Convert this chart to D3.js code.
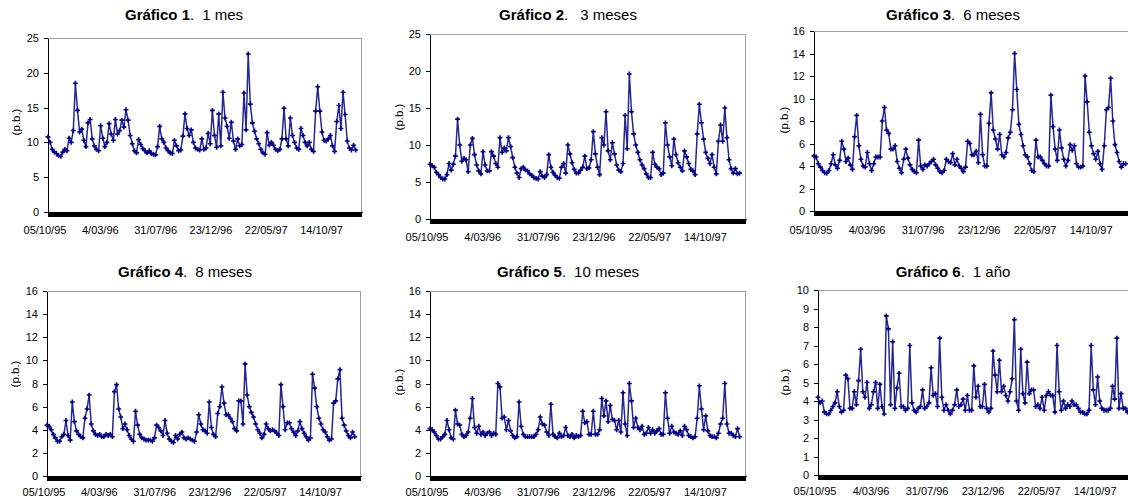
<!DOCTYPE html>
<html>
<head>
<meta charset="utf-8">
<script src="https://cdn.jsdelivr.net/npm/d3@7"></script>
<style>
  html, body { margin: 0; padding: 0; background: #fff; }
  svg { display: block; font-family: Arial, "Liberation Sans", sans-serif; }
</style>
</head>
<body>
<svg id="chart" width="1128" height="504"></svg>
<script>
// Date labels shown on the category axis, and the category index where each sits
const dateLabels = ["05/10/95", "4/03/96", "31/07/96", "23/12/96", "22/05/97", "14/10/97"];
const dateIndex = [0, 105, 210, 315, 420, 525];
const categoryCount = 596;   // business days on the axis
const sampleStep = 4;        // one plotted observation every 4 business days

// Volatility in basis points (p.b.) for each maturity
const mes1 = [10.8,10.0,9.0,8.6,8.4,8.1,8.0,8.6,9.0,8.8,10.6,10.0,11.7,18.5,14.6,11.5,11.9,10.3,9.4,12.8,
  13.3,10.5,9.5,9.0,8.8,12.4,10.6,9.4,10.0,12.7,11.2,10.3,13.3,11.2,11.7,13.2,12.2,14.7,13.2,11.0,
  9.8,8.8,8.5,10.4,9.7,9.1,8.8,8.5,8.8,8.4,8.3,8.2,9.4,12.3,10.5,10.0,9.2,8.8,8.5,8.4,
  10.3,9.5,8.8,8.9,10.9,14.1,12.0,11.0,11.8,10.0,9.2,9.0,8.9,10.5,9.0,9.2,11.3,9.8,14.6,11.0,
  9.3,14.1,9.5,17.2,13.5,12.3,10.6,12.9,10.2,9.0,10.5,9.5,9.7,17.1,11.8,22.7,15.5,12.8,11.6,10.5,
  9.8,9.0,8.5,8.3,11.4,9.6,10.0,9.6,9.0,8.8,9.0,10.5,14.9,10.5,9.5,13.5,11.0,10.0,9.2,9.0,
  12.0,11.0,10.0,9.5,10.0,9.0,8.7,14.5,18.0,14.5,11.5,10.3,10.2,10.5,11.0,9.5,8.7,13.0,15.3,12.0,
  17.2,14.0,10.2,9.2,8.9,9.6,8.9];

const meses3 = [7.4,7.2,7.0,6.3,6.0,5.6,5.4,5.4,6.0,7.5,6.6,7.4,8.5,13.5,10.0,7.8,8.2,8.0,6.4,10.0,
  10.9,8.7,7.3,6.5,6.1,9.1,7.3,6.5,6.5,9.1,8.5,7.5,7.0,11.0,9.0,9.6,9.2,11.0,9.8,8.3,
  7.0,6.2,5.6,6.8,7.0,6.6,6.5,6.1,5.9,5.6,5.5,5.4,6.4,5.8,5.6,6.0,8.7,7.0,6.3,5.9,
  5.6,5.5,7.0,7.5,6.2,10.0,8.8,7.6,6.7,6.2,6.2,6.6,7.0,8.5,6.8,6.9,8.0,11.8,8.8,7.0,
  6.0,11.0,10.0,14.5,9.2,8.0,10.3,8.8,7.3,6.6,6.4,7.5,14.0,9.5,19.6,14.5,11.5,10.0,9.0,8.0,
  7.3,6.8,6.1,5.6,5.6,9.0,7.4,7.0,6.8,6.0,6.2,13.0,10.0,8.4,7.2,10.8,8.7,7.6,7.0,6.5,
  9.2,8.4,7.5,6.7,6.5,6.0,11.5,15.5,13.0,10.8,9.0,8.2,7.5,8.7,7.0,6.1,10.5,12.7,10.5,15.0,
  11.0,8.0,6.8,6.2,6.8,6.1,6.2];

const meses6 = [4.9,4.8,4.2,3.9,3.6,3.4,3.35,3.6,4.2,5.0,4.1,3.8,4.5,6.2,5.5,4.4,4.7,4.1,3.7,6.6,
  8.5,5.8,4.6,4.0,3.9,5.2,4.2,3.6,4.2,4.8,4.8,4.8,8.0,9.2,7.2,6.9,5.5,5.5,5.8,4.4,
  3.8,3.4,4.6,5.5,4.7,4.1,3.7,3.5,3.4,6.3,4.0,3.7,4.1,4.0,4.2,4.4,4.6,4.1,3.8,3.5,
  3.4,3.6,4.6,4.4,4.3,5.1,4.1,4.6,4.0,3.8,3.5,3.9,6.2,6.0,5.0,5.0,5.3,4.3,8.6,5.0,
  4.0,4.0,7.8,10.5,7.2,6.4,5.5,6.8,5.0,4.8,5.2,6.5,7.0,9.0,14.0,10.8,7.7,6.8,5.8,5.0,
  4.8,4.2,3.6,3.5,6.3,4.8,4.8,4.5,4.2,4.0,4.0,10.3,7.5,5.5,4.5,7.2,5.6,4.6,4.0,4.5,
  5.9,5.4,5.8,4.2,3.9,3.9,4.0,12.0,9.7,7.0,5.8,5.1,4.6,5.3,4.2,3.7,5.8,9.0,9.2,11.8,
  8.0,5.9,5.2,4.4,3.9,4.2,4.2];

const meses8 = [4.4,4.3,4.0,3.6,3.3,3.0,3.0,3.4,3.6,4.8,3.5,3.1,6.4,4.7,3.9,3.6,3.4,3.3,5.0,5.8,
  7.0,4.5,3.9,3.6,3.5,3.6,3.4,3.4,3.6,3.5,3.6,3.4,7.3,7.9,5.8,5.1,4.1,4.5,4.0,3.5,
  3.2,3.0,5.6,4.4,3.6,3.3,3.2,3.1,3.1,3.1,3.0,3.3,4.4,4.2,3.9,3.5,4.8,3.7,3.2,3.0,
  2.9,3.5,3.2,3.6,3.8,3.3,3.2,3.3,3.2,3.1,3.0,3.8,5.3,4.5,4.0,3.9,3.7,6.4,4.2,3.6,
  3.4,5.4,6.0,7.7,6.3,5.3,5.3,5.0,4.7,4.1,3.9,6.5,6.5,4.5,9.7,7.0,6.0,5.5,5.1,4.5,
  4.0,3.7,3.3,3.6,4.5,4.1,3.9,4.0,3.9,3.7,3.5,7.9,6.0,4.0,4.6,4.6,4.1,3.8,3.5,3.9,
  4.7,4.1,3.7,3.4,3.1,3.3,8.8,7.6,6.0,5.0,4.5,4.0,3.8,3.4,3.1,3.2,6.3,6.5,8.4,9.2,
  5.0,4.4,3.9,3.5,3.3,3.8,3.4];

const meses10 = [4.1,4.0,3.8,3.5,3.2,3.2,3.4,3.6,4.8,4.0,3.3,3.2,5.7,4.5,4.4,3.6,3.4,3.5,3.8,5.0,
  6.7,4.2,3.7,4.3,3.6,3.8,3.5,3.7,3.8,3.5,3.7,3.6,8.0,7.7,5.0,5.1,4.0,4.8,3.9,3.5,
  3.3,3.4,6.4,4.3,3.6,3.4,3.4,3.4,3.4,3.4,3.6,4.0,5.1,4.5,4.4,3.8,3.5,6.2,3.6,3.4,
  3.3,3.7,3.4,3.5,4.2,3.5,3.4,3.6,3.3,3.5,3.4,3.5,5.6,4.6,4.7,3.6,3.6,5.6,3.6,3.6,
  4.0,6.7,5.2,6.5,4.7,6.1,4.9,4.8,4.0,4.8,3.8,7.2,4.5,3.5,8.0,6.5,4.2,5.0,4.2,4.0,
  4.3,3.6,3.7,4.2,3.7,4.0,3.7,3.9,4.1,3.6,3.6,7.2,5.0,3.7,4.3,3.8,3.7,3.6,3.9,3.5,
  4.3,4.0,3.5,3.4,3.3,3.4,5.0,7.8,5.8,4.0,5.2,3.9,3.5,3.4,3.4,3.3,3.7,4.5,5.0,8.0,
  4.5,3.7,3.7,3.5,3.4,4.1,3.4];

const ano1 = [4.2,3.9,4.0,3.4,3.3,3.3,3.5,3.7,3.9,4.5,3.7,3.4,3.5,5.4,5.2,3.6,3.6,4.5,3.8,5.1,
  6.8,4.5,4.2,5.0,3.6,3.8,4.5,5.0,3.6,4.9,3.7,3.3,8.6,7.9,3.8,7.2,3.6,4.7,5.5,3.7,
  3.7,3.5,3.6,7.0,3.9,3.5,3.4,3.6,3.7,4.6,3.6,3.7,3.9,5.8,4.3,4.4,3.7,7.4,4.2,3.5,
  3.8,3.5,3.3,3.5,3.8,4.6,3.7,3.8,4.1,3.5,4.3,3.5,3.5,5.9,4.2,4.8,3.7,3.7,4.9,3.6,
  3.4,3.6,6.7,5.4,4.5,6.2,4.5,4.8,4.3,4.0,4.5,5.2,8.4,4.0,3.5,6.8,4.4,3.9,6.1,4.4,
  4.6,4.6,3.7,3.8,3.6,4.2,3.5,4.3,4.5,4.3,4.3,3.4,7.0,4.5,3.5,4.0,3.6,3.8,3.7,4.0,
  3.8,3.8,3.6,3.4,3.4,3.3,3.3,3.5,7.0,4.6,3.8,5.3,4.0,3.6,3.5,3.5,3.5,3.6,4.8,4.1,
  7.4,3.6,4.4,3.6,3.6,3.4,3.5];

// One small chart per maturity
const panels = [
  { num: "1", sub: "1 mes",    gap: 12, values: mes1,    yMax: 25, yStep: 5,
    left: 48,  top: 38,  bottom: 212, width: 314, titleX: 184, titleY: 20,  yLabX: 16,  yLabY: 122, xLabY: 234 },
  { num: "2", sub: "3 meses",  gap: 16, values: meses3,  yMax: 25, yStep: 5,
    left: 430, top: 34,  bottom: 219, width: 316, titleX: 568, titleY: 20,  yLabX: 399, yLabY: 117, xLabY: 241 },
  { num: "3", sub: "6 meses",  gap: 12, values: meses6,  yMax: 16, yStep: 2,
    left: 814, top: 31,  bottom: 211, width: 318, titleX: 953, titleY: 20,  yLabX: 784, yLabY: 120, xLabY: 234 },
  { num: "4", sub: "8 meses",  gap: 12, values: meses8,  yMax: 16, yStep: 2,
    left: 47,  top: 291, bottom: 476, width: 314, titleX: 185, titleY: 277, yLabX: 15,  yLabY: 374, xLabY: 496 },
  { num: "5", sub: "10 meses", gap: 12, values: meses10, yMax: 16, yStep: 2,
    left: 430, top: 291, bottom: 476, width: 316, titleX: 568, titleY: 277, yLabX: 399, yLabY: 382, xLabY: 496 },
  { num: "6", sub: "1 año",    gap: 12, values: ano1,    yMax: 10, yStep: 1,
    left: 818, top: 290, bottom: 475, width: 318, titleX: 953, titleY: 277, yLabX: 785, yLabY: 382, xLabY: 495 }
];

const navy = "#000080";
const svg = d3.select("#chart");

panels.forEach(p => {
  const g = svg.append("g");
  const x = d3.scaleLinear().domain([0, categoryCount]).range([p.left, p.left + p.width]);
  const y = d3.scaleLinear().domain([0, p.yMax]).range([p.bottom, p.top]);

  // plot frame: grey top and right edges
  g.append("path")
    .attr("d", `M${p.left},${p.top + 0.5}H${p.left + p.width - 0.5}V${p.bottom}`)
    .attr("fill", "none").attr("stroke", "#a0a0a0").attr("stroke-width", 1)
    .attr("shape-rendering", "crispEdges");

  // value axis
  const yTicks = d3.range(0, p.yMax + 0.001, p.yStep);
  const yAxis = g.append("g")
    .attr("transform", `translate(${p.left},0)`)
    .call(d3.axisLeft(y).tickValues(yTicks).tickFormat(d3.format("d")).tickSize(4).tickPadding(5).tickSizeOuter(0));
  yAxis.selectAll("path, line").attr("stroke", "#000").attr("shape-rendering", "crispEdges");
  yAxis.selectAll("text").attr("font-size", 11).attr("fill", "#000")
    .attr("font-family", "Arial, 'Liberation Sans', sans-serif");

  // category axis: a tick for every business day forms the solid base band
  const xAxis = g.append("g")
    .attr("transform", `translate(0,${p.bottom})`)
    .call(d3.axisBottom(x).tickValues(d3.range(0, categoryCount)).tickFormat("").tickSize(5).tickSizeOuter(0));
  xAxis.selectAll("path, line").attr("stroke", "#000").attr("shape-rendering", "crispEdges");
  xAxis.select("path").attr("stroke-width", 1.5);

  // date labels
  g.selectAll("text.date").data(dateLabels).join("text")
    .attr("class", "date")
    .attr("x", (d, i) => x(dateIndex[i]) - 3)
    .attr("y", p.xLabY)
    .attr("text-anchor", "middle")
    .attr("font-size", 11)
    .attr("fill", "#000")
    .text(d => d);

  // axis title
  g.append("text")
    .attr("transform", `translate(${p.yLabX + 4},${p.yLabY}) rotate(-90)`)
    .attr("text-anchor", "middle")
    .attr("font-size", 11.5)
    .attr("fill", "#000")
    .text("(p.b.)");

  // chart title
  const t = g.append("text")
    .attr("x", p.titleX).attr("y", p.titleY)
    .attr("text-anchor", "middle")
    .attr("font-size", 15)
    .attr("fill", "#000");
  t.append("tspan").attr("font-weight", "bold").text("Gráfico " + p.num);
  t.append("tspan").text(".");
  t.append("tspan").attr("dx", p.gap - 4).text(p.sub);

  // series
  const pts = p.values.map((v, i) => [i * sampleStep, v]);
  g.append("path")
    .datum(pts)
    .attr("fill", "none")
    .attr("stroke", navy)
    .attr("stroke-width", 1.5)
    .attr("stroke-opacity", 0.85)
    .attr("stroke-linejoin", "round")
    .attr("d", d3.line().x(d => x(d[0])).y(d => y(d[1])));

  const sym = d3.symbol().type(d3.symbolCross).size(13);
  g.selectAll("path.mk").data(pts).join("path")
    .attr("class", "mk")
    .attr("transform", d => `translate(${x(d[0])},${y(d[1])})`)
    .attr("d", sym)
    .attr("fill", navy);
});
</script>
</body>
</html>
